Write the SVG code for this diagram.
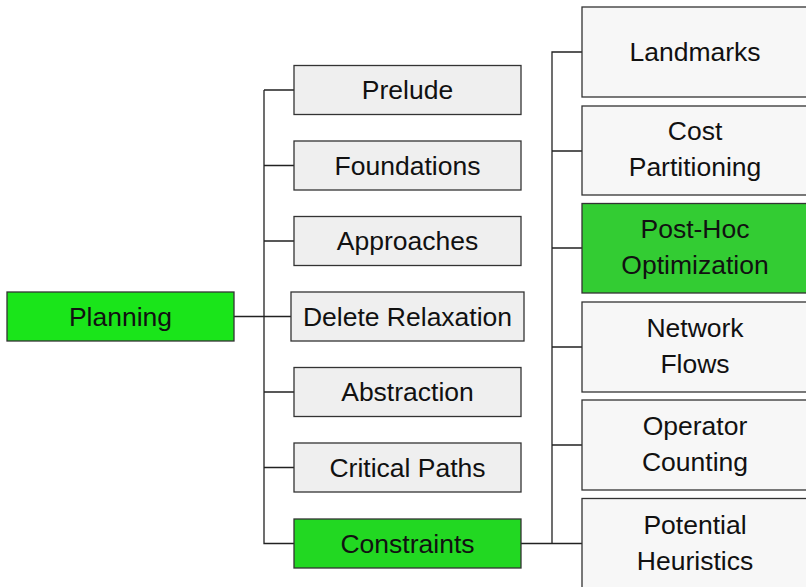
<svg xmlns="http://www.w3.org/2000/svg" width="806" height="587" viewBox="0 0 806 587">
<style>
.n rect{stroke:#333;stroke-width:1.3}
.g{fill:#efefef}
.w{fill:#f7f7f7}
text{font-family:"Liberation Sans",Arial,sans-serif;font-size:26.5px;fill:#111;text-anchor:middle}
#connectors path{fill:none;stroke:#222;stroke-width:1.3}
</style>
<rect x="0" y="0" width="806" height="587" fill="#fff"/>
<g id="connectors">
<path d="M234 316.5H264M264 90H294M264 165.5H294M264 241H294M264 316.5H291M264 392H294M264 467.5H294M264 90V543.5H294"/>
<path d="M521 543.5H552V52H582M552 151H582M552 248H582M552 347H582M552 445H582M552 543.5H582"/>
</g>
<g id="planning" class="n"><rect x="7" y="292" width="227" height="49" fill="#1ae51a"/><text x="120.5" y="325.5">Planning</text></g>
<g id="prelude" class="n"><rect class="g" x="294" y="65.5" width="227" height="49"/><text x="407.5" y="99">Prelude</text></g>
<g id="foundations" class="n"><rect class="g" x="294" y="141" width="227" height="49"/><text x="407.5" y="174.5">Foundations</text></g>
<g id="approaches" class="n"><rect class="g" x="294" y="216.5" width="227" height="49"/><text x="407.5" y="250">Approaches</text></g>
<g id="delete-relaxation" class="n"><rect class="g" x="291" y="292" width="233" height="49"/><text x="407.5" y="325.5">Delete Relaxation</text></g>
<g id="abstraction" class="n"><rect class="g" x="294" y="367.5" width="227" height="49"/><text x="407.5" y="401">Abstraction</text></g>
<g id="critical-paths" class="n"><rect class="g" x="294" y="443" width="227" height="49"/><text x="407.5" y="476.5">Critical Paths</text></g>
<g id="constraints" class="n"><rect x="294" y="519" width="227" height="49" fill="#22d822"/><text x="407.5" y="552.5">Constraints</text></g>
<g id="landmarks" class="n"><rect class="w" x="582" y="7" width="226" height="90"/><text x="695" y="61">Landmarks</text></g>
<g id="cost-partitioning" class="n"><rect class="w" x="582" y="106" width="226" height="89"/><text x="695" y="140">Cost</text><text x="695" y="176">Partitioning</text></g>
<g id="post-hoc" class="n"><rect x="582" y="203.5" width="226" height="89.5" fill="#33cc33"/><text x="695" y="238">Post-Hoc</text><text x="695" y="274">Optimization</text></g>
<g id="network-flows" class="n"><rect class="w" x="582" y="302" width="226" height="90"/><text x="695" y="337">Network</text><text x="695" y="373">Flows</text></g>
<g id="operator-counting" class="n"><rect class="w" x="582" y="400" width="226" height="90"/><text x="695" y="435">Operator</text><text x="695" y="471">Counting</text></g>
<g id="potential-heuristics" class="n"><rect class="w" x="582" y="498.5" width="226" height="90"/><text x="695" y="534">Potential</text><text x="695" y="570">Heuristics</text></g>
</svg>
